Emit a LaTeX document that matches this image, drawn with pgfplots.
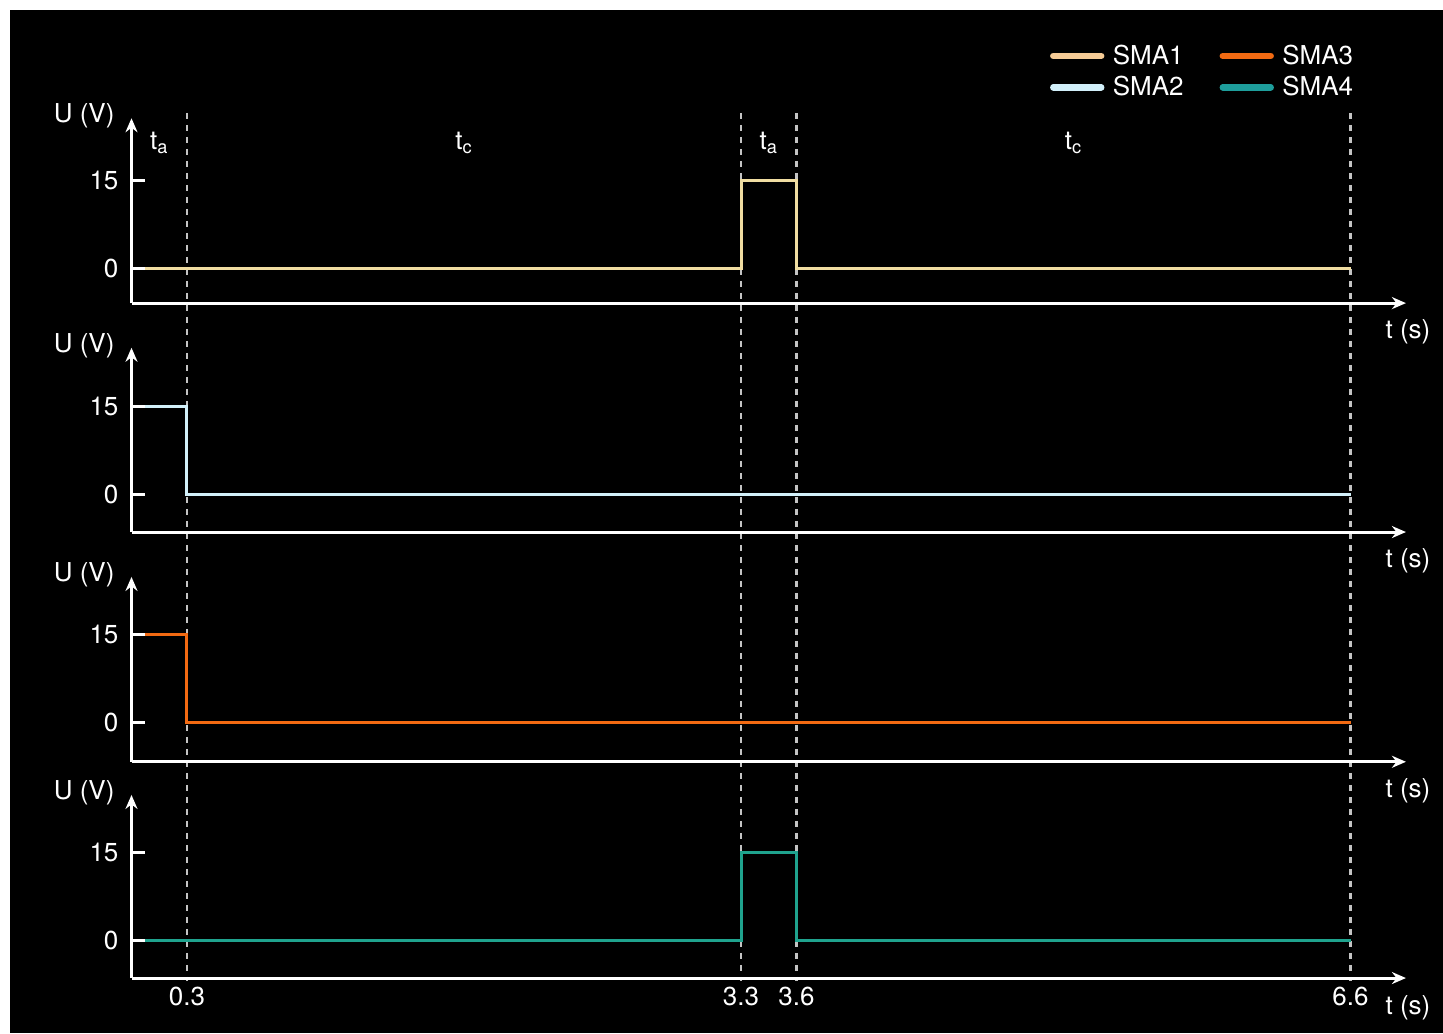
\documentclass[border=0pt]{standalone}
\usepackage{fontspec}
\setmainfont{TeX Gyre Heros}
\usepackage{pgfplots}
\pgfplotsset{compat=1.18}
\usetikzlibrary{arrows.meta}

\definecolor{sma1}{HTML}{F0DDA2}
\definecolor{sma1leg}{HTML}{F6CC96}
\definecolor{sma2}{HTML}{D2F0FA}
\definecolor{sma3}{HTML}{F26A12}
\definecolor{sma4}{HTML}{1FA38E}
\definecolor{sma4leg}{HTML}{1E9E9C}
\definecolor{guide}{HTML}{C4C4C4}

\pgfdeclarelayer{canvas}
\pgfdeclarelayer{guides}
\pgfsetlayers{canvas,guides,main}

\pgfplotsset{
  panel/.style={
    anchor=origin,
    x=92.35pt, y=2.925pt,
    xmin=0, xmax=6.9,
    axis lines=left,
    axis on top,
    clip=false,
    axis line style={white, line width=1.5pt, -{Stealth[length=7pt,width=6pt]}},
    ytick={0,15},
    yticklabels={0,15},
    xtick=\empty,
    tick align=inside,
    major tick length=7pt,
    tick style={white, line width=1.5pt},
    xtick style={draw=none},
    every tick label/.append style={text=white, font=\fontsize{13}{15}\selectfont},
    /pgf/number format/assume math mode=true,
    yticklabel style={xshift=-3pt},
    every axis plot/.append style={line width=1.5pt, line join=miter},
  },
}

\newcommand{\ulabel}{\node[anchor=east, text=white, font=\fontsize{13}{15}\selectfont, xshift=-5pt, yshift=1pt] at (rel axis cs:0,1) {U (V)};}
\newcommand{\tlabel}{\node[anchor=center, text=white, font=\fontsize{13}{15}\selectfont, xshift=1pt, yshift=-14.5pt] at (rel axis cs:1,0) {t (s)};}

\begin{document}
\begin{tikzpicture}
% frame: white margin at top and left, black canvas
\begin{pgfonlayer}{canvas}
\fill[white] (0pt,0pt) rectangle (721.5pt,-516.5pt);
\fill[black] (5pt,-5pt) rectangle (721.5pt,-516.5pt);
\end{pgfonlayer}

% SMA1
\begin{axis}[panel, at={(65.75pt,-134pt)}, ymin=-6.0, ymax=25.6,
  legend columns=2,
  legend cell align=left,
  legend style={at={(axis cs:6.67,39.6)}, anchor=north east, draw=none, fill=none,
    text=white, font=\fontsize{13}{15}\selectfont,
    /tikz/every even column/.append style={column sep=16pt},
    row sep=0.5pt},
  legend image code/.code={\draw[#1, line width=3.2pt, line cap=round] (0pt,0pt) -- (24pt,0pt); \path (27pt,0pt);},
]
\addplot[sma1, forget plot] coordinates {(0,0) (3.3,0) (3.3,15) (3.6,15) (3.6,0) (6.6,0)};
\addlegendimage{sma1leg}\addlegendentry{SMA1}
\addlegendimage{sma3}\addlegendentry{SMA3}
\addlegendimage{sma2}\addlegendentry{SMA2}
\addlegendimage{sma4leg}\addlegendentry{SMA4}
\ulabel
\tlabel
\node[text=white, font=\fontsize{13}{15}\selectfont] at (axis cs:0.15,21.4) {t\textsubscript{a}};
\node[text=white, font=\fontsize{13}{15}\selectfont] at (axis cs:1.8,21.4) {t\textsubscript{c}};
\node[text=white, font=\fontsize{13}{15}\selectfont] at (axis cs:3.45,21.4) {t\textsubscript{a}};
\node[text=white, font=\fontsize{13}{15}\selectfont] at (axis cs:5.1,21.4) {t\textsubscript{c}};
\coordinate (ga) at (axis cs:0.3,26.5);
\coordinate (gb) at (axis cs:3.3,26.5);
\coordinate (gc) at (axis cs:3.6,26.5);
\coordinate (gd) at (axis cs:6.6,26.5);
\end{axis}

% SMA2
\begin{axis}[panel, at={(65.75pt,-247pt)}, ymin=-6.5, ymax=25.0]
\addplot[sma2] coordinates {(0,15) (0.3,15) (0.3,0) (6.6,0)};
\ulabel
\tlabel
\end{axis}

% SMA3
\begin{axis}[panel, at={(65.75pt,-361pt)}, ymin=-6.8, ymax=24.8]
\addplot[sma3] coordinates {(0,15) (0.3,15) (0.3,0) (6.6,0)};
\ulabel
\tlabel
\end{axis}

% SMA4
\begin{axis}[panel, at={(65.75pt,-470pt)}, ymin=-6.5, ymax=24.8,
  xtick={0.3,3.3,3.6,6.6},
  xticklabels={0.3,3.3,3.6,6.6},
  xticklabel style={yshift=-1pt},
]
\addplot[sma4] coordinates {(0,0) (3.3,0) (3.3,15) (3.6,15) (3.6,0) (6.6,0)};
\ulabel
\node[anchor=center, text=white, font=\fontsize{13}{15}\selectfont, xshift=1pt, yshift=-15pt] at (rel axis cs:1,0) {t (s)};
\coordinate (ha) at (axis cs:0.3,-7.0);
\coordinate (hb) at (axis cs:3.3,-7.0);
\coordinate (hc) at (axis cs:3.6,-7.0);
\coordinate (hd) at (axis cs:6.6,-7.0);
\end{axis}

% phase boundaries, behind the signals
\begin{pgfonlayer}{guides}
\begin{scope}[guide, line width=1.3pt, dash pattern=on 3pt off 3pt]
\draw (ga) -- (ha);
\draw (gb) -- (hb);
\draw (gc) -- (hc);
\draw (gd) -- (hd);
\end{scope}
\end{pgfonlayer}

\pgfresetboundingbox
\path (0pt,0pt) rectangle (721.5pt,-516.5pt);
\end{tikzpicture}
\end{document}
